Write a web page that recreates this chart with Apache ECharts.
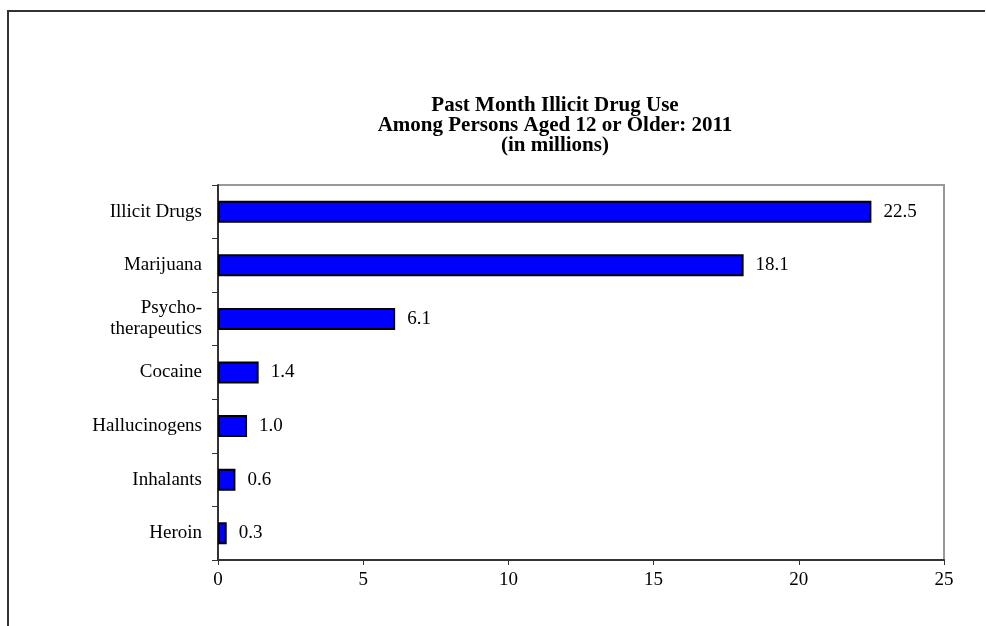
<!DOCTYPE html>
<html>
<head>
<meta charset="utf-8">
<script src="https://cdn.jsdelivr.net/npm/echarts@6/dist/echarts.min.js"></script>
<style>
  html, body { margin: 0; padding: 0; background: #fff; }
  #chart { width: 986px; height: 626px; }
</style>
</head>
<body>
<div id="chart"></div>
<script>
// Drug categories, top to bottom
const categories = ['Illicit Drugs', 'Marijuana', 'Psycho-\ntherapeutics', 'Cocaine', 'Hallucinogens', 'Inhalants', 'Heroin'];
// Past-month users, millions
const users = [22.5, 18.1, 6.1, 1.4, 1.0, 0.6, 0.3];
const titleLines = ['Past Month Illicit Drug Use', 'Among Persons Aged 12 or Older: 2011', '(in millions)'];

const serif = '"Liberation Serif", "Times New Roman", serif';
const chart = echarts.init(document.getElementById('chart'), null, { renderer: 'canvas' });

// category axis runs bottom-up, so reverse for top-to-bottom order
const cats = categories.slice().reverse();
const vals = users.slice().reverse();

chart.setOption({
  animation: false,
  backgroundColor: '#fff',
  title: {
    text: titleLines.join('\n'),
    left: 550,
    top: 91,
    textAlign: 'center',
    textStyle: { fontFamily: serif, fontWeight: 'bold', fontSize: 21, lineHeight: 20, color: '#000' }
  },
  grid: { left: 218, right: 42, top: 185, bottom: 66, containLabel: false, show: false },
  xAxis: {
    type: 'value', min: 0, max: 25, interval: 5,
    axisLine: { show: true, lineStyle: { color: '#333', width: 2 } },
    axisTick: { show: true, length: 5, lineStyle: { color: '#333', width: 1 } },
    axisLabel: { fontFamily: serif, fontSize: 19, color: '#000', margin: 11 },
    splitLine: { show: false }
  },
  yAxis: {
    type: 'category', data: cats,
    axisLine: { show: true, lineStyle: { color: '#333', width: 2 } },
    axisTick: { show: true, length: 6, inside: false, lineStyle: { color: '#333' } },
    axisLabel: { fontFamily: serif, fontSize: 19, color: '#000', margin: 16, align: 'right', lineHeight: 21 }
  },
  series: [{
    type: 'bar',
    data: vals,
    barWidth: 22,
    itemStyle: { color: '#0000ff', borderColor: '#000', borderWidth: 2 },
    label: {
      show: true, position: 'right', distance: 12,
      fontFamily: serif, fontSize: 19, color: '#000',
      formatter: p => p.value.toFixed(1)
    }
  }],
  graphic: [
    // outer frame (top and left edges)
    { type: 'polyline', shape: { points: [[8, 626], [8, 11], [985, 11]] }, style: { stroke: '#333', lineWidth: 2, fill: null }, silent: true },
    // plot frame top and right edges
    { type: 'polyline', shape: { points: [[218, 185], [944, 185], [944, 560]] }, style: { stroke: '#999', lineWidth: 2, fill: null }, silent: true, z: -1 }
  ]
});
</script>
</body>
</html>
